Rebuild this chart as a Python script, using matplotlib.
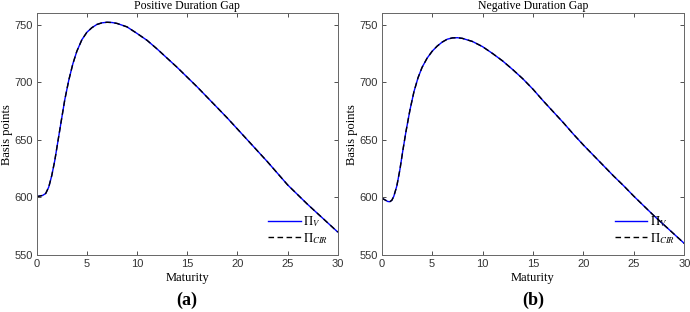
import matplotlib
matplotlib.use("Agg")
import matplotlib.pyplot as plt

plt.rcParams['mathtext.fontset'] = 'stix'

# Maturity grid (years) and values (basis points)
mat_pos = [0, 0.3, 0.6, 0.9, 1.2, 1.5, 1.8, 2.1, 2.4, 2.8, 3.2, 3.6, 4.0, 4.5, 5.0, 5.5,
           6.0, 6.5, 7.0, 7.5, 8.0, 9.0, 10, 11, 12, 13, 14, 15, 16, 17, 18, 19, 20,
           21, 22, 23, 24, 25, 26, 27, 28, 29, 30]
pos_V = [600.8, 601.2, 601.8, 603.5, 609, 619, 632, 648, 664, 685, 702, 716, 727, 737, 743.5, 747.5,
         750.3, 751.7, 752.2, 752.0, 751.2, 748.2, 742.5, 736.5, 729, 721, 713, 704.5, 696, 687, 678, 669, 659.5,
         650, 640.5, 631, 621, 611, 602.5, 594, 586, 578, 570]
pos_CIR = list(pos_V)

mat_neg = [0, 0.3, 0.6, 0.8, 1.0, 1.2, 1.5, 1.8, 2.1, 2.4, 2.8, 3.2, 3.6, 4.0, 4.5, 5.0, 5.5,
           6.0, 6.5, 7.0, 7.5, 8.0, 9.0, 10, 11, 12, 13, 14, 15, 16, 17, 18, 19, 20,
           21, 22, 23, 24, 25, 26, 27, 28, 29, 30]
neg_V = [599.5, 598, 596.5, 596.3, 597.5, 601, 610, 624, 641, 657, 676, 692, 704, 713, 721, 727, 731.5,
         735, 737.5, 738.6, 738.8, 738.2, 735.5, 731, 725, 718.5, 711, 703, 694, 684, 674.5, 665, 655, 645.5,
         636.5, 627.5, 618.5, 610, 601, 592.5, 584, 576, 568, 560]
neg_CIR = list(neg_V)

titles = ["Positive Duration Gap", "Negative Duration Gap"]
panel_labels = ["(a)", "(b)"]
xticks = [0, 5, 10, 15, 20, 25, 30]
yticks = [550, 600, 650, 700, 750]

fig = plt.figure(figsize=(6.9, 3.12), dpi=100)
positions = [[0.0532, 0.1827, 0.4362, 0.7747], [0.5532, 0.1827, 0.4386, 0.7747]]
datasets = [(mat_pos, pos_V, pos_CIR), (mat_neg, neg_V, neg_CIR)]

serif = 'Liberation Serif'
sans = 'Liberation Sans'

for i, (pos, (x, yv, yc)) in enumerate(zip(positions, datasets)):
    ax = fig.add_axes(pos)
    ax.plot(x, yv, color='#0000ff', lw=1.0, label=r'$\Pi_V$')
    ax.plot(x, yc, color='black', lw=1.0, ls=(0, (4, 2.5)), label=r'$\Pi_{CIR}$')
    ax.set_xlim(0, 30)
    ax.set_ylim(550, 760)
    ax.set_xticks(xticks)
    ax.set_yticks(yticks)
    ax.tick_params(direction='in', length=3, width=0.6, top=True, right=True,
                   labelsize=8, colors='#333333', pad=3)
    for lab in ax.get_xticklabels() + ax.get_yticklabels():
        lab.set_fontfamily(sans)
    for s in ax.spines.values():
        s.set_linewidth(0.7)
        s.set_color('#666666')
    ax.set_title(titles[i], fontsize=8.5, family=serif, pad=3)
    ax.set_xlabel('Maturity', fontsize=9, family=serif, labelpad=2)
    ax.set_ylabel('Basis points', fontsize=9, family=serif)
    ax.yaxis.set_label_coords(-0.078, 0.5)
    leg = ax.legend(loc='lower right', frameon=False, fontsize=9, handlelength=2.6,
                    handletextpad=0.2, labelspacing=0.15, borderaxespad=0.35)
    ax.text(0.5, -0.188, panel_labels[i], transform=ax.transAxes, ha='center', va='center',
            fontsize=13, fontweight='bold', family=serif)

fig.savefig('out.png', dpi=100)
